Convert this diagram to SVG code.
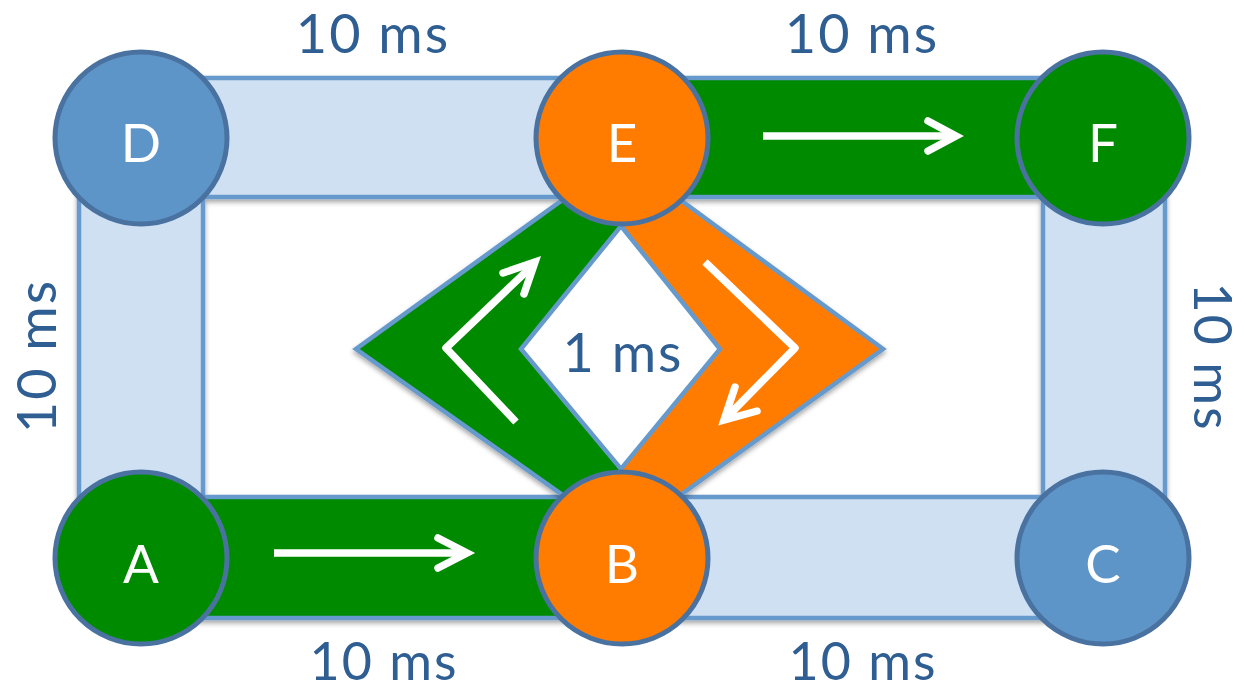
<svg xmlns="http://www.w3.org/2000/svg" width="1246" height="691" viewBox="0 0 1246 691">
<defs>
<filter id="sh" x="-10%" y="-10%" width="120%" height="130%">
<feDropShadow dx="0" dy="3" stdDeviation="2.5" flood-color="#000" flood-opacity="0.35"/>
</filter>
</defs>
<style>
.band{stroke:#6699CC;stroke-width:4.5}
.light{fill:#CFE0F2}
.green{fill:#008A00}
.orange{fill:#FF7C00}
.node{stroke:#4A72A0;stroke-width:5}
.blue{fill:#5E95C8}
.lbl{font-family:Lato,"Open Sans",sans-serif;font-size:54px;letter-spacing:2px;fill:#2F5E93;text-anchor:middle}
.sm{font-size:52px}
.nl{font-family:Lato,"Open Sans",sans-serif;font-size:53px;fill:#FFFFFF;text-anchor:middle}
.arr{fill:none;stroke:#FFFFFF;stroke-width:7.5;stroke-linejoin:round}
.head{fill:none;stroke:#FFFFFF;stroke-width:7.5;stroke-linejoin:miter;stroke-linecap:round}
</style>
<rect width="1246" height="691" fill="#FFFFFF"/>
<g id="connectors">
<g filter="url(#sh)">
<rect class="band light" x="79" y="138" width="124" height="420"/>
<rect class="band light" x="1043" y="138" width="122" height="420"/>
<rect class="band light" x="141" y="78" width="481" height="119"/>
<rect class="band green" x="622" y="78" width="481" height="119"/>
<rect class="band green" x="141" y="497" width="481" height="121"/>
<rect class="band light" x="622" y="497" width="481" height="121"/>
</g>
<g filter="url(#sh)">
<path class="green" d="M622,157 L356,349 L622,537 Z"/>
<path class="orange" d="M622,157 L883,349 L622,537 Z"/>
<path d="M622,157 L356,349 L622,537 L883,349 Z" fill="none" stroke="#6699CC" stroke-width="4.5" stroke-linejoin="miter"/>
<path d="M621,226 L720,349 L621,469 L521,349 Z" fill="#FFFFFF" stroke="#6699CC" stroke-width="4.5"/>
</g>
</g>
<g id="node-D"><circle class="node blue" cx="141" cy="138" r="86"/><text class="nl" x="141" y="162">D</text></g>
<g id="node-E"><circle class="node orange" cx="622" cy="138" r="86"/><text class="nl" x="622" y="162">E</text></g>
<g id="node-F"><circle class="node green" cx="1103" cy="138" r="86"/><text class="nl" x="1103" y="162">F</text></g>
<g id="node-A"><circle class="node green" cx="141" cy="558" r="86"/><text class="nl" x="141" y="583">A</text></g>
<g id="node-B"><circle class="node orange" cx="622" cy="558" r="86"/><text class="nl" x="622" y="583">B</text></g>
<g id="node-C"><circle class="node blue" cx="1103" cy="558" r="86"/><text class="nl" x="1103" y="583">C</text></g>
<g id="arrows">
<line class="arr" x1="763" y1="136" x2="954" y2="136"/>
<path class="head" d="M928,121 L956,136 L928,151"/>
<line class="arr" x1="274" y1="553" x2="465" y2="553"/>
<path class="head" d="M438,538 L467,553 L438,568"/>
<path class="arr" d="M516,422 L446,348 L532,266"/>
<path class="head" d="M503,273 L535,262 L524,294"/>
<path class="arr" d="M705,262 L795,348 L727,417"/>
<path class="head" d="M735,387 L724,420 L757,411"/>
</g>
<g id="labels">
<text class="lbl" x="373" y="53">10 ms</text>
<text class="lbl" x="862" y="53">10 ms</text>
<text class="lbl sm" x="384" y="680">10 ms</text>
<text class="lbl sm" x="863" y="680">10 ms</text>
<text class="lbl" x="623" y="372">1 ms</text>
<text class="lbl" transform="translate(56,356) rotate(-90)">10 ms</text>
<text class="lbl sm" transform="translate(1194,357) rotate(90)">10 ms</text>
</g>
</svg>
